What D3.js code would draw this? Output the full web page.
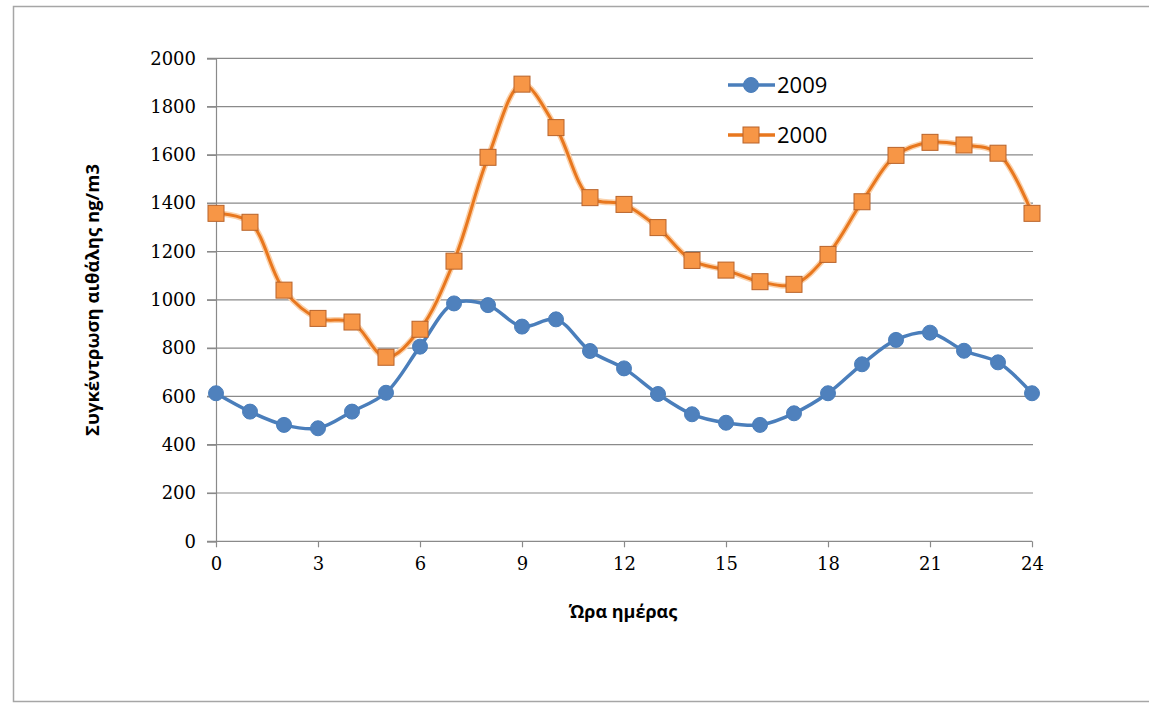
<!DOCTYPE html>
<html>
<head>
<meta charset="utf-8">
<script src="https://cdn.jsdelivr.net/npm/d3@7"></script>
<style>
  html, body { margin: 0; padding: 0; background: #fff; }
  svg { display: block; }
</style>
</head>
<body>
<svg id="chart" width="1149" height="704"></svg>
<script>
const hours = [0,1,2,3,4,5,6,7,8,9,10,11,12,13,14,15,16,17,18,19,20,21,22,23,24];
const series2009 = [613,537,482,468,537,615,806,985,978,889,919,788,716,610,526,491,482,530,613,733,834,864,789,741,613];
const series2000 = [1358,1321,1040,923,908,762,878,1160,1590,1893,1713,1423,1395,1299,1163,1123,1075,1064,1188,1406,1598,1652,1641,1607,1358];
const seriesNames = ["2009", "2000"];
const xTicks = [0,3,6,9,12,15,18,21,24];
const yTicks = [0,200,400,600,800,1000,1200,1400,1600,1800,2000];
const yTitle = "Συγκέντρωση αιθάλης ng/m3";
const xTitle = "Ώρα ημέρας";

const svg = d3.select("#chart");
const W = 1149, H = 704;

// outer chart border
svg.append("rect")
  .attr("x", 13.5).attr("y", 6.5)
  .attr("width", W + 20).attr("height", 695)
  .attr("fill", "#fff").attr("stroke", "#a6a6a6").attr("stroke-width", 1.5);

const x = d3.scaleLinear().domain([0, 24]).range([216, 1032]);
const y = d3.scaleLinear().domain([0, 2000]).range([541.3, 58.3]);

const gridColor = "#8a8a8a";

// horizontal gridlines
svg.append("g")
  .selectAll("line")
  .data(yTicks.filter(d => d > 0))
  .join("line")
  .attr("x1", 207).attr("x2", 1033)
  .attr("y1", d => y(d)).attr("y2", d => y(d))
  .attr("stroke", gridColor).attr("stroke-width", 1.2);

// y axis
const yAxis = d3.axisLeft(y).tickValues(yTicks).tickSize(9).tickPadding(11).tickFormat(d3.format("d"));
const gy = svg.append("g").attr("transform", `translate(${x(0)},0)`).call(yAxis);
gy.select(".domain").attr("stroke", gridColor).attr("stroke-width", 1.2);
gy.selectAll(".tick line").attr("stroke", gridColor).attr("stroke-width", 1.2);
gy.selectAll(".tick text")
  .attr("font-family", "'DejaVu Serif', serif")
  .attr("font-size", 18).attr("fill", "#000");

// x axis
const xAxis = d3.axisBottom(x).tickValues(xTicks).tickSize(6).tickPadding(10).tickFormat(d3.format("d"));
const gx = svg.append("g").attr("transform", `translate(0,${y(0)})`).call(xAxis);
gx.select(".domain").attr("stroke", gridColor).attr("stroke-width", 1.2)
  .attr("d", `M207,0H${x(24)}`);
gx.selectAll(".tick line").attr("stroke", gridColor).attr("stroke-width", 1.2);
gx.selectAll(".tick text")
  .attr("font-family", "'DejaVu Serif', serif")
  .attr("font-size", 18).attr("fill", "#000");

// axis titles
svg.append("text")
  .attr("transform", `translate(99,300) rotate(-90)`)
  .attr("text-anchor", "middle")
  .attr("font-family", "'Open Sans', sans-serif")
  .attr("font-weight", "bold")
  .attr("font-size", 18.5)
  .attr("fill", "#000")
  .text(yTitle);

svg.append("text")
  .attr("x", 623).attr("y", 618)
  .attr("text-anchor", "middle")
  .attr("font-family", "'Open Sans', sans-serif")
  .attr("font-weight", "bold")
  .attr("font-size", 18)
  .attr("fill", "#000")
  .text(xTitle);

const line = d3.line()
  .x((d, i) => x(hours[i]))
  .y(d => y(d))
  .curve(d3.curveCatmullRom.alpha(0.5));

const blueLine = "#4a7ebb", blueFill = "#4f81bd";
const orangeLine = "#e8771e", orangeFill = "#f79646", orangeEdge = "#b8632a";

// 2000 series (orange)
svg.append("path").datum(series2000)
  .attr("d", line).attr("fill", "none")
  .attr("stroke", "#fbd2ac").attr("stroke-width", 6);
svg.append("path").datum(series2000)
  .attr("d", line).attr("fill", "none")
  .attr("stroke", orangeLine).attr("stroke-width", 3);

// 2009 series (blue)
svg.append("path").datum(series2009)
  .attr("d", line).attr("fill", "none")
  .attr("stroke", blueLine).attr("stroke-width", 3.5);

svg.append("g").selectAll("rect")
  .data(series2000)
  .join("rect")
  .attr("x", (d, i) => x(hours[i]) - 8)
  .attr("y", d => y(d) - 8)
  .attr("width", 16).attr("height", 16)
  .attr("fill", orangeFill).attr("stroke", orangeEdge).attr("stroke-width", 1);

svg.append("g").selectAll("circle")
  .data(series2009)
  .join("circle")
  .attr("cx", (d, i) => x(hours[i]))
  .attr("cy", d => y(d))
  .attr("r", 7.5)
  .attr("fill", blueFill).attr("stroke", blueLine).attr("stroke-width", 1);

// legend
const legend = svg.append("g");
const legendItems = [
  { name: seriesNames[0], y: 85, color: blueLine, fill: blueFill, shape: "circle" },
  { name: seriesNames[1], y: 135, color: orangeLine, fill: orangeFill, shape: "square" }
];
legendItems.forEach(it => {
  legend.append("line")
    .attr("x1", 728).attr("x2", 775)
    .attr("y1", it.y).attr("y2", it.y)
    .attr("stroke", it.color).attr("stroke-width", 3.5);
  if (it.shape === "circle") {
    legend.append("circle").attr("cx", 751).attr("cy", it.y).attr("r", 7.5)
      .attr("fill", it.fill).attr("stroke", it.color);
  } else {
    legend.append("rect").attr("x", 743).attr("y", it.y - 8)
      .attr("width", 16).attr("height", 16)
      .attr("fill", it.fill).attr("stroke", orangeEdge);
  }
  legend.append("text")
    .attr("x", 777).attr("y", it.y + 8)
    .attr("font-family", "'Open Sans', sans-serif")
    .attr("font-size", 22).attr("fill", "#000")
    .text(it.name);
});
</script>
</body>
</html>
